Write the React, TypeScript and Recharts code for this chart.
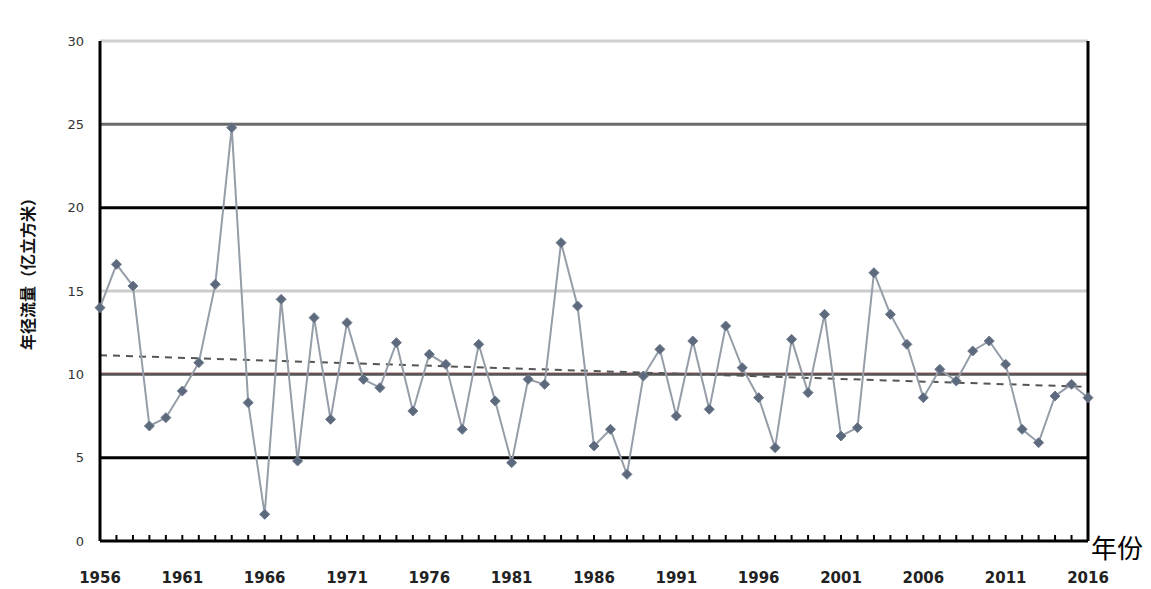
import React from "react";
import { LineChart, Line, XAxis, YAxis, ReferenceLine } from "recharts";

const years: number[] = [
  1956, 1957, 1958, 1959, 1960, 1961, 1962, 1963, 1964, 1965,
  1966, 1967, 1968, 1969, 1970, 1971, 1972, 1973, 1974, 1975,
  1976, 1977, 1978, 1979, 1980, 1981, 1982, 1983, 1984, 1985,
  1986, 1987, 1988, 1989, 1990, 1991, 1992, 1993, 1994, 1995,
  1996, 1997, 1998, 1999, 2000, 2001, 2002, 2003, 2004, 2005,
  2006, 2007, 2008, 2009, 2010, 2011, 2012, 2013, 2014, 2015, 2016,
];

const values: number[] = [
  14.0, 16.6, 15.3, 6.9, 7.4, 9.0, 10.7, 15.4, 24.8, 8.3,
  1.6, 14.5, 4.8, 13.4, 7.3, 13.1, 9.7, 9.2, 11.9, 7.8,
  11.2, 10.6, 6.7, 11.8, 8.4, 4.7, 9.7, 9.4, 17.9, 14.1,
  5.7, 6.7, 4.0, 9.9, 11.5, 7.5, 12.0, 7.9, 12.9, 10.4,
  8.6, 5.6, 12.1, 8.9, 13.6, 6.3, 6.8, 16.1, 13.6, 11.8,
  8.6, 10.3, 9.6, 11.4, 12.0, 10.6, 6.7, 5.9, 8.7, 9.4, 8.6,
];

const yTicks: number[] = [0, 5, 10, 15, 20, 25, 30];
const xLabelYears: number[] = [1956, 1961, 1966, 1971, 1976, 1981, 1986, 1991, 1996, 2001, 2006, 2011, 2016];
const gridLevels: number[] = [30, 25, 20, 15, 10, 5];
const gridColors: string[] = ["#cfcfcf", "#6a6a6a", "#000000", "#cccccc", "#555555", "#000000"];
const meanValue: number = 10.1;
const trendStart = { x: 1956, y: 11.15 };
const trendEnd = { x: 2016, y: 9.25 };
const yLabel = "年径流量（亿立方米）";
const xLabel = "年份";

const data = years.map((y, i) => ({ year: y, value: values[i] }));

const Diamond = (props: any) => {
  const { cx, cy } = props;
  if (cx == null || cy == null) return null;
  const s = 5;
  return (
    <path
      d={`M${cx},${cy - s} L${cx + s},${cy} L${cx},${cy + s} L${cx - s},${cy} Z`}
      fill="#5d697c"
      stroke="#6f7b8e"
      strokeWidth={1}
    />
  );
};

const XTick = (props: any) => {
  const { x, y, payload } = props;
  const v = payload.value as number;
  const show = xLabelYears.includes(v);
  return (
    <g>
      <line x1={x} x2={x} y1={y - 6} y2={y} stroke="#000" strokeWidth={2} />
      {show && (
        <text x={x} y={y + 42} textAnchor="middle" fontSize={15} fontWeight="bold" fill="#222" fontFamily="DejaVu Sans, sans-serif">
          {v}
        </text>
      )}
    </g>
  );
};

export default function App() {
  return (
    <div style={{ position: "relative", width: 1135, height: 580 }}>
      <LineChart width={1135} height={580} data={data} margin={{ top: 33, right: 55, bottom: 17, left: 0 }}>
        <XAxis
          dataKey="year"
          type="number"
          domain={[1956, 2016]}
          ticks={years}
          interval={0}
          tickSize={0}
          tickMargin={0}
          tickLine={false}
          tick={<XTick />}
          axisLine={false}
          height={30}
        />
        <YAxis
          type="number"
          domain={[0, 30]}
          ticks={yTicks}
          width={92}
          tickLine={false}
          tickSize={0}
          tickMargin={16}
          axisLine={false}
          tick={{ fontSize: 13, fill: "#333", fontFamily: "DejaVu Sans, sans-serif" }}
        />
        {gridLevels.map((g, i) => (
          <ReferenceLine key={g} y={g} stroke={gridColors[i]} strokeWidth={3} />
        ))}
        <ReferenceLine y={meanValue} stroke="#e07070" strokeWidth={1} strokeOpacity={0.45} />
        <ReferenceLine
          segment={[trendStart, trendEnd]}
          stroke="#555"
          strokeWidth={2}
          strokeDasharray="7 6"
        />
        <ReferenceLine y={0} stroke="#000" strokeWidth={3} />
        <ReferenceLine x={1956} stroke="#000" strokeWidth={3} />
        <ReferenceLine x={2016} stroke="#000" strokeWidth={3} />
        <Line
          type="linear"
          dataKey="value"
          stroke="#959ea8"
          strokeWidth={2}
          dot={<Diamond />}
          activeDot={false}
          isAnimationActive={false}
        />
      </LineChart>
      <div
        style={{
          position: "absolute",
          left: 19,
          top: 262,
          transform: "translate(-50%, -50%) rotate(-90deg)",
          whiteSpace: "nowrap",
          fontSize: 16,
          fontWeight: "bold",
          fontFamily: "'Noto Sans CJK SC', sans-serif",
          color: "#111",
        }}
      >
        {yLabel}
      </div>
      <div
        style={{
          position: "absolute",
          left: 1083,
          top: 526,
          fontSize: 26,
          lineHeight: "26px",
          fontFamily: "'Noto Sans CJK SC', sans-serif",
          color: "#000",
          whiteSpace: "nowrap",
        }}
      >
        {xLabel}
      </div>
    </div>
  );
}
